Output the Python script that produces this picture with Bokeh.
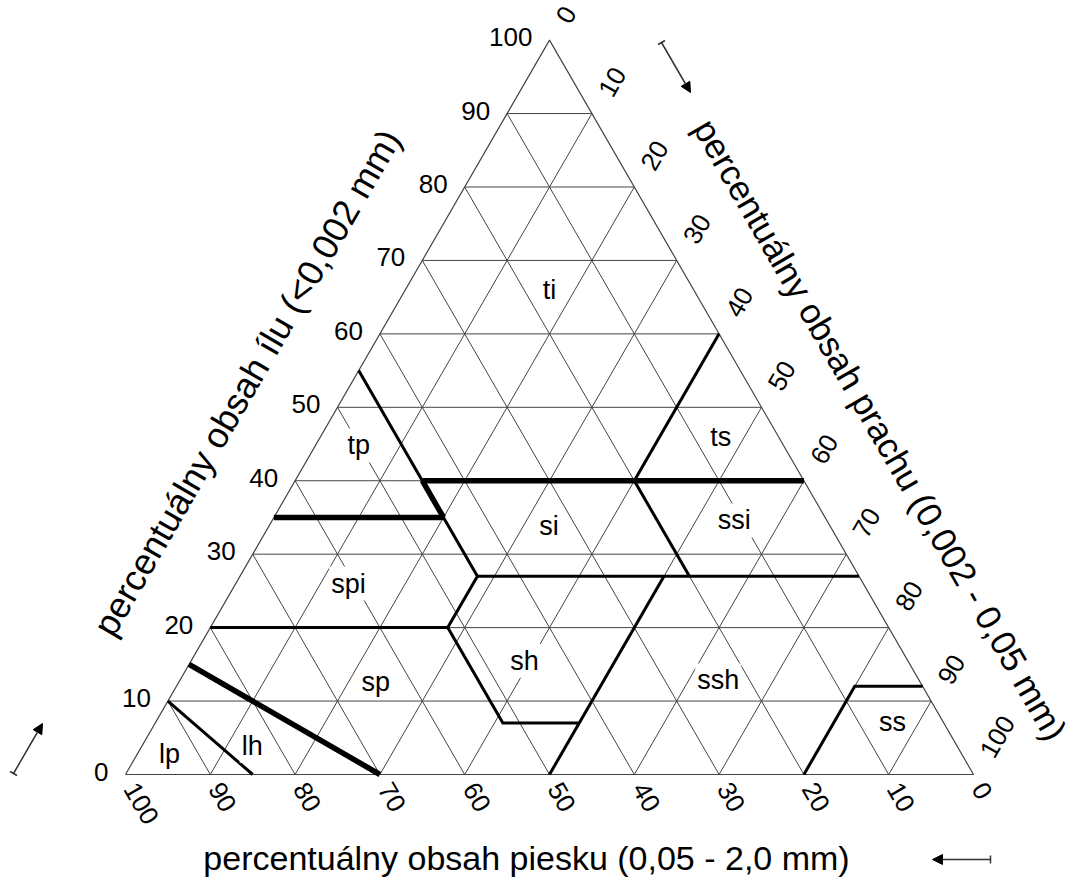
import numpy as np
from bokeh.plotting import figure
from bokeh.models import Range1d, Arrow, NormalHead, TeeHead
from bokeh.embed import file_html
from bokeh.resources import INLINE
from bokeh.core.properties import value

# ---------------- data ----------------
grid_levels = [10, 20, 30, 40, 50, 60, 70, 80, 90]
tick_values = [0, 10, 20, 30, 40, 50, 60, 70, 80, 90, 100]
tick_labels = ["0", "10", "20", "30", "40", "50", "60", "70", "80", "90", "100"]

class_names = ["ti", "ts", "tp", "si", "ssi", "spi", "sh", "ssh", "sp", "ss", "lh", "lp"]
class_clay = [66.0, 46.0, 44.8, 33.9, 34.6, 26.0, 15.5, 12.8, 12.6, 7.1, 3.9, 2.8]
class_silt = [17.0, 47.2, 5.1, 33.0, 54.5, 13.3, 39.3, 63.5, 23.2, 86.9, 13.0, 3.8]

# class boundaries, vertices as (clay %, silt %)
bold_clay = [[15, 0], [35, 35], [40, 40], [35, 40]]
bold_silt = [[0, 30], [0, 20], [15, 60], [20, 15]]
medium_clay = [[10, 0], [20, 20, 7, 7], [0, 27], [20, 27, 35, 55], [27, 27], [27, 40], [40, 60], [0, 12, 12]]
medium_silt = [[0, 15], [0, 28, 41, 50], [50, 50], [28, 28, 20, 0], [28, 73], [53, 40], [40, 40], [80, 80, 88]]

clay_title = "percentuálny obsah ílu (<0,002 mm)"
silt_title = "percentuálny obsah prachu (0,002 - 0,05 mm)"
sand_title = "percentuálny obsah piesku (0,05 - 2,0 mm)"

# ---------------- helpers ----------------
H = np.sqrt(3) / 2
PX = 8.48  # screen pixels per data unit


def tern(clay, silt):
    clay = np.asarray(clay, float)
    silt = np.asarray(silt, float)
    return silt + clay / 2.0, clay * H


def page(X, Y):
    return (X - 125.0) / PX, (774.0 - Y) / PX


W, HGT = 1078, 884
x0 = -125.0 / PX
y0 = -(HGT - 774.0) / PX
p = figure(width=W, height=HGT, output_backend="svg", toolbar_location=None,
           x_range=Range1d(x0, x0 + W / PX), y_range=Range1d(y0, y0 + HGT / PX),
           min_border=0, outline_line_color=None, background_fill_color="white")
p.axis.visible = False
p.grid.visible = False

FONT = value("Liberation Sans")

# grid lines
gx, gy = [], []
for v in grid_levels:
    for cl, si in (([v, v], [0, 100 - v]),            # constant clay
                   ([0, 100 - v], [100 - v, 0]),      # constant sand
                   ([0, 100 - v], [v, v])):           # constant silt
        xx, yy = tern(cl, si)
        gx.append(list(xx)); gy.append(list(yy))
p.multi_line(gx, gy, line_color="#444444", line_width=1)

# outline
ox, oy = tern([0, 0, 100, 0], [0, 100, 0, 0])
p.line(ox, oy, line_color="#444444", line_width=1.2)

# boundaries
mx, my = [], []
for cl, si in zip(medium_clay, medium_silt):
    xx, yy = tern(cl, si); mx.append(list(xx)); my.append(list(yy))
p.multi_line(mx, my, line_color="black", line_width=3, line_join="miter")
bx, by = [], []
for cl, si in zip(bold_clay, bold_silt):
    xx, yy = tern(cl, si); bx.append(list(xx)); by.append(list(yy))
p.multi_line(bx, by, line_color="black", line_width=5.5)

# class labels
lx, ly = tern(class_clay, class_silt)
p.text(x=lx, y=ly, text=class_names, text_align="center", text_baseline="middle",
       text_font=FONT, text_font_size="27px", text_color="black",
       background_fill_color="white", padding=2)

tv = np.array(tick_values, float)
# clay ticks (left edge)
cx, cy = tern(tv, np.zeros_like(tv))
p.text(x=cx - 17 / PX, y=cy + 3 / PX, text=tick_labels, text_align="right", text_baseline="middle",
       text_font=FONT, text_font_size="26px", text_color="black")
# silt ticks (right edge)
sx, sy = tern(100 - tv, tv)
p.text(x=sx + 13 / PX, y=sy + 19 / PX, text=tick_labels, angle=60, angle_units="deg",
       text_align="left", text_baseline="middle",
       text_font=FONT, text_font_size="26px", text_color="black")
# sand ticks (bottom edge)
dx, dy = tern(np.zeros_like(tv), 100 - tv)
p.text(x=dx + 5 / PX, y=dy - 10 / PX, text=tick_labels, angle=-60, angle_units="deg",
       text_align="left", text_baseline="middle",
       text_font=FONT, text_font_size="26px", text_color="black")

# axis titles
for txt, (X, Y), ang, fs in ((clay_title, (246.5, 382), 60, "36px"),
                             (silt_title, (880, 429), -60, "35px"),
                             (sand_title, (526, 857), 0, "34px")):
    tx, ty = page(X, Y)
    p.text(x=[tx], y=[ty], text=[txt], angle=ang, angle_units="deg",
           text_align="center", text_baseline="middle",
           text_font=FONT, text_font_size=fs, text_color="black")

# direction arrows
for (X1, Y1), (X2, Y2) in (((13, 773), (42, 723)),
                           ((661, 42), (690, 92)),
                           ((990, 859), (932, 859))):
    xs, ys = page(X1, Y1)
    xe, ye = page(X2, Y2)
    p.add_layout(Arrow(x_start=xs, y_start=ys, x_end=xe, y_end=ye,
                       line_color="#333333", line_width=1.5,
                       end=NormalHead(size=10, fill_color="black", line_color="black"),
                       start=TeeHead(size=8, line_color="#333333", line_width=1.5)))

open("out.html", "w").write(file_html(p, INLINE))
